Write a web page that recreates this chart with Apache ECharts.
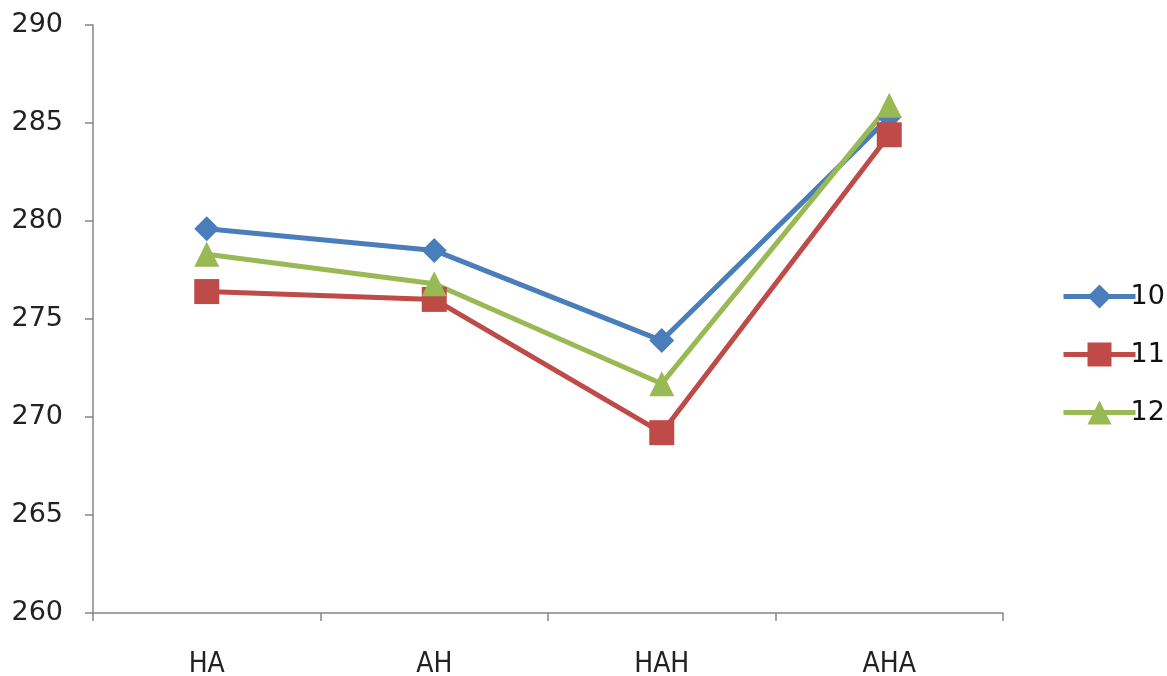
<!DOCTYPE html>
<html>
<head>
<meta charset="utf-8">
<script src="https://cdn.jsdelivr.net/npm/echarts@6/dist/echarts.min.js"></script>
<style>
  html, body { margin: 0; padding: 0; background: #fff; }
  #chart { width: 1167px; height: 676px; }
</style>
</head>
<body>
<div id="chart"></div>
<script>
// Categories along the x axis
const categories = ['HA', 'AH', 'HAH', 'AHA'];

// Series values
const series10 = [279.6, 278.5, 273.9, 285.3];
const series11 = [276.4, 276.0, 269.2, 284.4];
const series12 = [278.3, 276.8, 271.7, 285.9];

// Value axis range
const yMin = 260;
const yMax = 290;
const yStep = 5;

const axisColor = '#868686';
const labelFont = 'DejaVu Sans';

const chart = echarts.init(document.getElementById('chart'), null, { renderer: 'canvas' });

function lineSeries(name, data, color, symbol, size) {
  return {
    name: name,
    type: 'line',
    data: data,
    symbol: symbol,
    symbolSize: size,
    showAllSymbol: true,
    lineStyle: { color: color, width: 5 },
    itemStyle: { color: color },
    emphasis: { disabled: true }
  };
}

chart.setOption({
  animation: false,
  backgroundColor: '#ffffff',
  grid: { left: 93, right: 164, top: 25, bottom: 63, containLabel: false, outerBoundsMode: 'none' },
  xAxis: {
    type: 'category',
    data: categories,
    boundaryGap: true,
    axisLine: { lineStyle: { color: axisColor, width: 1.5 } },
    axisTick: { show: true, length: 8, alignWithLabel: false, lineStyle: { color: axisColor, width: 1.5 } },
    axisLabel: { color: '#222', fontFamily: 'DejaVu Sans Condensed', fontSize: 28, margin: 38 },
    splitLine: { show: false }
  },
  yAxis: {
    type: 'value',
    min: yMin,
    max: yMax,
    interval: yStep,
    axisLine: { show: true, lineStyle: { color: axisColor, width: 1.5 } },
    axisTick: { show: true, length: 8, lineStyle: { color: axisColor, width: 1.5 } },
    axisLabel: { color: '#222', fontFamily: labelFont, fontSize: 27, margin: 30 },
    splitLine: { show: false }
  },
  legend: {
    orient: 'vertical',
    left: 1056,
    top: 278,
    itemWidth: 72,
    itemHeight: 30,
    itemGap: 31,
    lineStyle: { width: 5 },
    textStyle: { color: '#111', fontFamily: labelFont, fontSize: 27, padding: [0, 0, 0, -10] },
    data: ['10', '11', '12']
  },
  series: [
    lineSeries('10', series10, '#4A7EBB', 'diamond', 25),
    lineSeries('11', series11, '#BE4B48', 'rect', 25),
    lineSeries('12', series12, '#98B954', 'triangle', 25)
  ]
});
</script>
</body>
</html>
